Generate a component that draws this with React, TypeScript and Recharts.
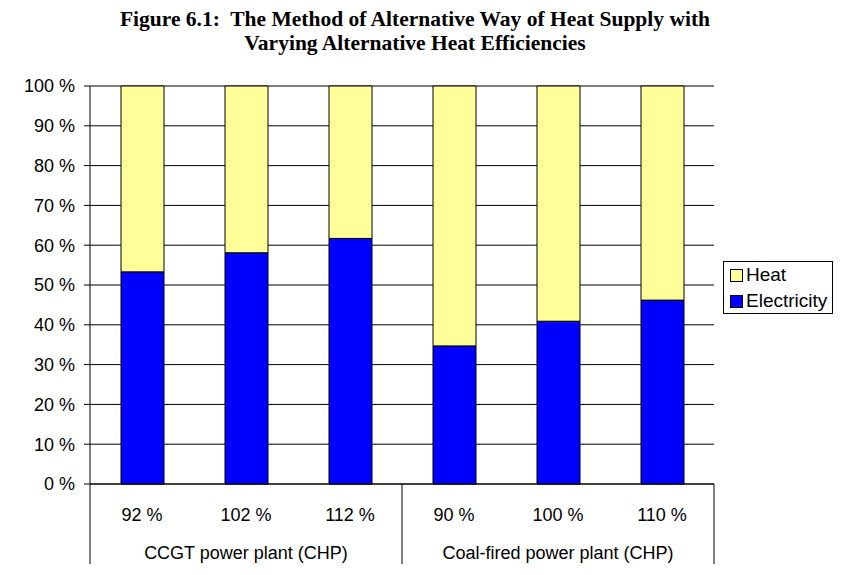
import React from 'react';
import { BarChart, Bar, XAxis, YAxis, CartesianGrid, Legend } from 'recharts';

const categories = ['92 %', '102 %', '112 %', '90 %', '100 %', '110 %'];
const groups = ['CCGT power plant (CHP)', 'Coal-fired power plant (CHP)'];
const electricity = [53.3, 58.1, 61.7, 34.7, 40.9, 46.2];
const heat = [46.7, 41.9, 38.3, 65.3, 59.1, 53.8];
const yTicks = [0, 10, 20, 30, 40, 50, 60, 70, 80, 90, 100];

const data = categories.map((c, i) => ({ name: c, electricity: electricity[i], heat: heat[i] }));

const FONT = '"Liberation Sans", Arial, sans-serif';

const XTick = (props: any) => {
  const { x, y, payload, index } = props;
  const half = payload && payload.offset ? payload.offset : 52;
  const i = typeof index === 'number' ? index : categories.indexOf(payload.value);
  return (
    <g>
      <text x={x} y={y + 31} textAnchor="middle" dominantBaseline="central" fontSize={18} fontFamily={FONT} fill="#000">
        {payload.value}
      </text>
      {i % 3 === 1 && (
        <text x={x} y={y + 69} textAnchor="middle" dominantBaseline="central" fontSize={18} fontFamily={FONT} fill="#000">
          {groups[Math.floor(i / 3)]}
        </text>
      )}
      {i % 3 === 0 && <line x1={x - half} x2={x - half} y1={y} y2={y + 80} stroke="#000" strokeWidth={1} />}
      {i === categories.length - 1 && <line x1={x + half} x2={x + half} y1={y} y2={y + 80} stroke="#000" strokeWidth={1} />}
    </g>
  );
};

const LegendBox = () => (
  <div
    style={{
      border: '1px solid #000',
      background: '#fff',
      width: 110,
      height: 53,
      padding: '0 0 0 6px',
      boxSizing: 'border-box',
      fontFamily: FONT,
      fontSize: 19,
      color: '#000',
      lineHeight: '26px',
      textAlign: 'left',
    }}
  >
    {[
      { label: 'Heat', color: '#FFFF99' },
      { label: 'Electricity', color: '#0000FF' },
    ].map((e) => (
      <div key={e.label} style={{ display: 'flex', alignItems: 'center' }}>
        <span style={{ display: 'inline-block', width: 11, height: 11, background: e.color, border: '1px solid #000', marginRight: 3 }} />
        <span>{e.label}</span>
      </div>
    ))}
  </div>
);

export default function App() {
  return (
    <div style={{ position: 'absolute', left: 0, top: 0, width: 843, height: 575, background: '#fff' }}>
      <div
        style={{
          position: 'absolute',
          left: 0,
          top: 7,
          width: 830,
          textAlign: 'center',
          fontFamily: '"Liberation Serif", "Times New Roman", serif',
          fontWeight: 'bold',
          fontSize: 21.5,
          lineHeight: '24px',
          color: '#000',
        }}
      >
        <div>Figure 6.1:&nbsp; The Method of Alternative Way of Heat Supply with</div>
        <div>Varying Alternative Heat Efficiencies</div>
      </div>
      <BarChart
        width={843}
        height={575}
        data={data}
        margin={{ top: 86, right: 129, left: 0, bottom: 6 }}
        barSize={43}
      >
        <CartesianGrid vertical={false} stroke="#000" strokeWidth={1} />
        <XAxis
          dataKey="name"
          height={85}
          tickLine={false}
          tickSize={0}
          tickMargin={0}
          axisLine={{ stroke: '#000' }}
          tick={<XTick />}
          interval={0}
        />
        <YAxis
          width={90}
          domain={[0, 100]}
          ticks={yTicks}
          tickFormatter={(v: number) => `${v} %`}
          tickSize={6}
          tickMargin={9}
          axisLine={{ stroke: '#000' }}
          tickLine={{ stroke: '#000' }}
          tick={{ fill: '#000', fontSize: 18, fontFamily: FONT }}
        />
        <YAxis
          yAxisId="right"
          orientation="right"
          width={0}
          domain={[0, 100]}
          tick={false}
          tickLine={false}
          axisLine={{ stroke: '#808080' }}
        />
        <Legend
          content={<LegendBox />}
          layout="vertical"
          verticalAlign="middle"
          align="center"
          wrapperStyle={{ position: 'absolute', left: 723, top: 261, width: 110, right: 'auto', bottom: 'auto' }}
        />
        <Bar dataKey="electricity" name="Electricity" stackId="a" fill="#0000FF" stroke="#000" strokeWidth={1} isAnimationActive={false} />
        <Bar dataKey="heat" name="Heat" stackId="a" fill="#FFFF99" stroke="#000" strokeWidth={1} isAnimationActive={false} />
      </BarChart>
    </div>
  );
}
